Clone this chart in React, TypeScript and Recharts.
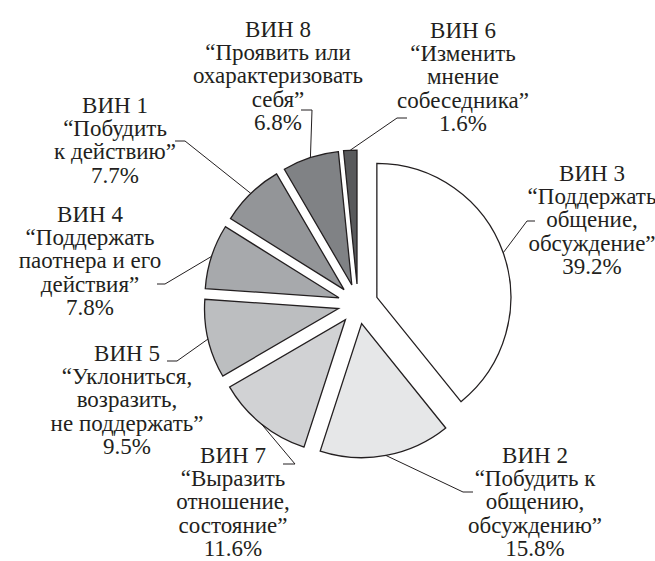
import { PieChart, Pie, Cell, Sector } from 'recharts'

const codes = ['ВИН 3', 'ВИН 2', 'ВИН 7', 'ВИН 5', 'ВИН 4', 'ВИН 1', 'ВИН 8', 'ВИН 6']
const shares = [39.2, 15.8, 11.6, 9.5, 7.8, 7.7, 6.8, 1.6]
const descriptions = [
    ['“Поддержать', 'общение,', 'обсуждение”'],
    ['“Побудить к', 'общению,', 'обсуждению”'],
    ['“Выразить', 'отношение,', 'состояние”'],
    ['“Уклониться,', 'возразить,', 'не поддержать”'],
    ['“Поддержать', 'паотнера и его', 'действия”'],
    ['“Побудить', 'к действию”'],
    ['“Проявить или', 'охарактеризовать', 'себя”'],
    ['“Изменить', 'мнение', 'собеседника”'],
]

const FILLS = ['#ffffff', '#e6e7e8', '#d1d2d4', '#bcbec0', '#a7a9ac', '#939598', '#808285', '#58595b']
const INK = '#231f20'
const FONT = '"Liberation Serif", "Times New Roman", serif'
const FONT_SIZE = 23
const LINE_H = 23.4
const EXPLODE = 20
const RAD = Math.PI / 180

// label placement relative to pie centre: text block (centre x, first line y), elbow and end of leader
const LABEL_LAYOUT = [
    { text: [234, -131], elbow: [169, -83], end: [177, -83] },
    { text: [177, 151], elbow: [105, 188], end: [115, 188] },
    { text: [-125, 151], elbow: [-63, 160], end: [-75, 160] },
    { text: [-231, 49], elbow: [-181, 57], end: [-191, 57] },
    { text: [-268, -90], elbow: [-193, -20], end: [-201, -20] },
    { text: [-243, -199], elbow: [-173, -163], end: [-183, -163] },
    { text: [-80, -275], elbow: [-46, -194], end: [-57, -194] },
    { text: [105, -274], elbow: [39, -186], end: [49, -186] },
]

const data = codes.map((code, i) => ({ name: code, value: shares[i] }))

const ExplodedSector = (props: any) => {
    const { cx, cy, midAngle } = props
    const a = -midAngle * RAD
    return <Sector {...props} cx={cx + EXPLODE * Math.cos(a)} cy={cy + EXPLODE * Math.sin(a)} />
}

const renderLabel = (props: any) => {
    const { cx, cy, midAngle, outerRadius, index } = props
    const a = -midAngle * RAD
    const sx = cx + (EXPLODE + outerRadius) * Math.cos(a)
    const sy = cy + (EXPLODE + outerRadius) * Math.sin(a)
    const lay = LABEL_LAYOUT[index]
    const lines = [codes[index], ...descriptions[index], `${shares[index].toFixed(1)}%`]
    const tx = cx + lay.text[0]
    const ty = cy + lay.text[1] + 7.5
    return (
        <g>
            <polyline
                points={`${sx},${sy} ${cx + lay.elbow[0]},${cy + lay.elbow[1]} ${cx + lay.end[0]},${cy + lay.end[1]}`}
                fill="none"
                stroke={INK}
                strokeWidth={1}
            />
            <text textAnchor="middle" style={{ fontFamily: FONT, fontSize: FONT_SIZE }} fill={INK}>
                {lines.map((line, i) => (
                    <tspan key={i} x={tx} y={ty + i * LINE_H}>{line}</tspan>
                ))}
            </text>
        </g>
    )
}

const App = () => {
    return (
        <div style={{ position: 'absolute', left: 0, top: 0, background: '#fff' }}>
            <PieChart width={655} height={561}>
                <Pie
                    data={data}
                    dataKey="value"
                    nameKey="name"
                    cx={353}
                    cy={299}
                    outerRadius={134}
                    startAngle={90}
                    endAngle={-270}
                    stroke={INK}
                    strokeWidth={1.3}
                    shape={ExplodedSector}
                    label={renderLabel}
                    labelLine={false}
                    isAnimationActive={false}
                >
                    {data.map((entry, i) => (
                        <Cell key={entry.name} fill={FILLS[i]} />
                    ))}
                </Pie>
            </PieChart>
        </div>
    )
}

export default App
